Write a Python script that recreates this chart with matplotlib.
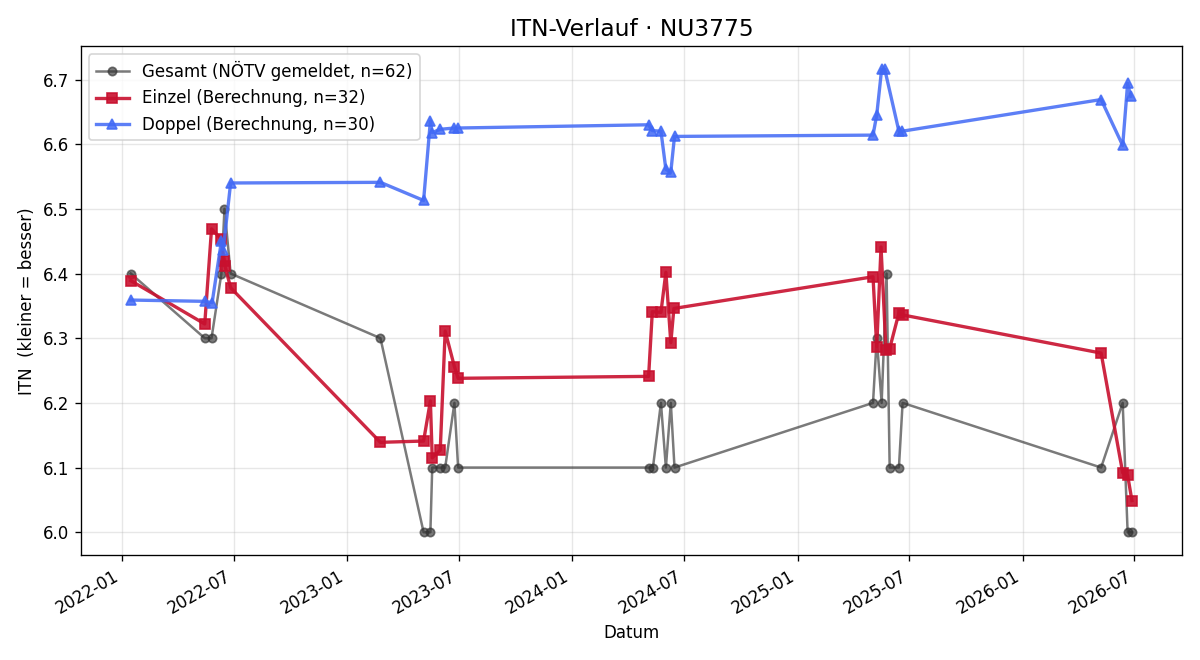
import matplotlib
matplotlib.use("Agg")
import numpy as np
import pandas as pd
import matplotlib.pyplot as plt
import matplotlib.dates as mdates

# Gesamt (NÖTV gemeldet)
ges_dates = ["2022-01-15", "2022-05-15", "2022-05-26", "2022-06-11", "2022-06-16", "2022-06-26",
             "2023-02-24", "2023-05-05", "2023-05-16", "2023-05-19", "2023-06-01", "2023-06-09",
             "2023-06-24", "2023-06-30",
             "2024-05-04", "2024-05-11", "2024-05-24", "2024-06-01", "2024-06-09", "2024-06-15",
             "2025-05-03", "2025-05-09", "2025-05-17", "2025-05-25", "2025-05-30", "2025-06-14",
             "2025-06-20",
             "2026-05-08", "2026-06-12", "2026-06-20", "2026-06-27"]
ges_vals = [6.4, 6.3, 6.3, 6.4, 6.5, 6.4,
            6.3, 6.0, 6.0, 6.1, 6.1, 6.1, 6.2, 6.1,
            6.1, 6.1, 6.2, 6.1, 6.2, 6.1,
            6.2, 6.3, 6.2, 6.4, 6.1, 6.1, 6.2,
            6.1, 6.2, 6.0, 6.0]

# Einzel (Berechnung)
ein_dates = ["2022-01-15", "2022-05-15", "2022-05-26", "2022-06-10", "2022-06-16", "2022-06-17",
             "2022-06-26",
             "2023-02-24", "2023-05-05", "2023-05-16", "2023-05-19", "2023-06-01", "2023-06-09",
             "2023-06-24", "2023-06-30",
             "2024-05-04", "2024-05-10", "2024-05-24", "2024-06-01", "2024-06-09", "2024-06-14",
             "2025-05-03", "2025-05-09", "2025-05-16", "2025-05-24", "2025-05-30", "2025-06-14",
             "2025-06-20",
             "2026-05-08", "2026-06-12", "2026-06-20", "2026-06-27"]
ein_vals = [6.389, 6.322, 6.469, 6.454, 6.419, 6.411, 6.378,
            6.139, 6.141, 6.203, 6.115, 6.127, 6.311, 6.256, 6.238,
            6.241, 6.341, 6.340, 6.402, 6.293, 6.346,
            6.395, 6.287, 6.441, 6.282, 6.284, 6.339, 6.336,
            6.277, 6.092, 6.088, 6.049]

# Doppel (Berechnung)
dop_dates = ["2022-01-15", "2022-05-15", "2022-05-27", "2022-06-11", "2022-06-14", "2022-06-26",
             "2023-02-24", "2023-05-05", "2023-05-16", "2023-05-19", "2023-06-01", "2023-06-24",
             "2023-06-30",
             "2024-05-04", "2024-05-10", "2024-05-24", "2024-06-01", "2024-06-09", "2024-06-15",
             "2025-05-03", "2025-05-09", "2025-05-17", "2025-05-22", "2025-06-14", "2025-06-19",
             "2026-05-08", "2026-06-12", "2026-06-20", "2026-06-25"]
dop_vals = [6.359, 6.357, 6.355, 6.450, 6.437, 6.540,
            6.541, 6.513, 6.636, 6.618, 6.623, 6.625, 6.625,
            6.630, 6.621, 6.620, 6.561, 6.557, 6.612,
            6.614, 6.645, 6.716, 6.716, 6.620, 6.620,
            6.669, 6.598, 6.694, 6.674]

fig, ax = plt.subplots(figsize=(10, 5.5), dpi=120)

ax.plot(pd.to_datetime(ges_dates), ges_vals, marker="o", color="#333333", alpha=0.65,
        linewidth=1.5, markersize=5, label="Gesamt (NÖTV gemeldet, n=62)")
ax.plot(pd.to_datetime(ein_dates), ein_vals, marker="s", color="#C8102E", alpha=0.9,
        linewidth=2, markersize=6, label="Einzel (Berechnung, n=32)")
ax.plot(pd.to_datetime(dop_dates), dop_vals, marker="^", color="#4169F5", alpha=0.85,
        linewidth=2, markersize=6, label="Doppel (Berechnung, n=30)")

ax.set_title("ITN-Verlauf · NU3775", fontsize=14)
ax.set_xlabel("Datum")
ax.set_ylabel("ITN  (kleiner = besser)")
ax.grid(True, alpha=0.3)
ax.legend(loc="upper left")
ax.xaxis.set_major_formatter(mdates.DateFormatter("%Y-%m"))
fig.autofmt_xdate()
fig.tight_layout()
fig.savefig("out.png")
